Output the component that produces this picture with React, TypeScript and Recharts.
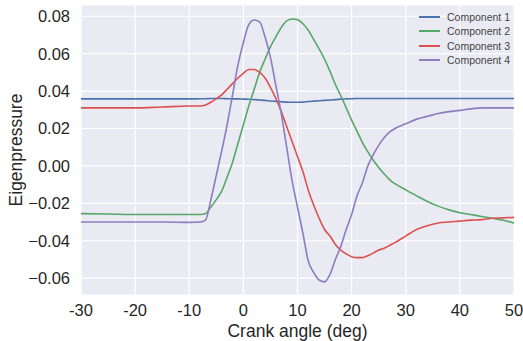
import { LineChart, Line, XAxis, YAxis, CartesianGrid, Legend } from "recharts";

const angles = [
  -30, -25, -20, -15, -10, -8, -7, -6, -5, -4, -3, -2, -1, 0, 1, 2, 3, 4, 5, 6, 7, 8, 9, 10,
  11, 12, 13, 14, 15, 16, 17, 18, 19, 20, 21, 22, 23, 24, 25, 26, 27, 28, 30, 32, 34, 36, 38,
  40, 42, 44, 46, 48, 50,
];

const comp1 = [
  0.0358, 0.0358, 0.0358, 0.0358, 0.0358, 0.0359, 0.0359, 0.036, 0.036, 0.036, 0.0359, 0.0358,
  0.0358, 0.0357, 0.0356, 0.0354, 0.0352, 0.035, 0.0347, 0.0345, 0.0343, 0.0341, 0.034, 0.034,
  0.0341, 0.0344, 0.0346, 0.0348, 0.035, 0.0352, 0.0354, 0.0357, 0.0358, 0.0359, 0.036, 0.036,
  0.036, 0.036, 0.036, 0.036, 0.036, 0.036, 0.036, 0.036, 0.036, 0.036, 0.036, 0.036, 0.036,
  0.036, 0.036, 0.036, 0.036,
];

const comp2 = [
  -0.0255, -0.0257, -0.026, -0.026, -0.026, -0.026, -0.0255, -0.022, -0.018, -0.0135, -0.006,
  0.002, 0.012, 0.022, 0.032, 0.041, 0.05, 0.057, 0.0636, 0.069, 0.074, 0.0775, 0.0785, 0.0782,
  0.076, 0.0725, 0.0675, 0.0625, 0.057, 0.0505, 0.0435, 0.0375, 0.031, 0.0245, 0.0185, 0.0125,
  0.0075, 0.003, -0.0008, -0.0042, -0.0073, -0.0095, -0.0128, -0.016, -0.019, -0.0215, -0.0235,
  -0.025, -0.026, -0.027, -0.028, -0.029, -0.0305,
];

const comp3 = [
  0.031, 0.031, 0.031, 0.0315, 0.032, 0.032, 0.0325, 0.034, 0.036, 0.038, 0.041, 0.044, 0.047,
  0.0495, 0.0515, 0.0515, 0.05, 0.047, 0.042, 0.036, 0.029, 0.021, 0.013, 0.005, -0.003,
  -0.013, -0.021, -0.028, -0.034, -0.0375, -0.042, -0.045, -0.047, -0.0485, -0.049, -0.049,
  -0.048, -0.0466, -0.045, -0.044, -0.0425, -0.041, -0.0375, -0.034, -0.032, -0.0305, -0.03,
  -0.0295, -0.029, -0.0287, -0.028, -0.0278, -0.0275,
];

const comp4 = [
  -0.03, -0.03, -0.03, -0.03, -0.0302, -0.03, -0.029, -0.018, -0.005, 0.008, 0.022, 0.038,
  0.054, 0.066, 0.0755, 0.078, 0.077, 0.069, 0.058, 0.043, 0.028, 0.01, -0.008, -0.022, -0.036,
  -0.051, -0.057, -0.061, -0.062, -0.058, -0.05, -0.043, -0.034, -0.026, -0.016, -0.009, 0.0,
  0.006, 0.011, 0.015, 0.018, 0.02, 0.0225, 0.025, 0.0265, 0.028, 0.029, 0.0297, 0.0305, 0.031,
  0.031, 0.031, 0.031,
];

const xTicks = [-30, -20, -10, 0, 10, 20, 30, 40, 50];
const yTicks = [-0.06, -0.04, -0.02, 0, 0.02, 0.04, 0.06, 0.08];

const series = [
  { key: "c1", name: "Component 1", color: "#4C72B0" },
  { key: "c2", name: "Component 2", color: "#55A868" },
  { key: "c3", name: "Component 3", color: "#DC5050" },
  { key: "c4", name: "Component 4", color: "#8C7CC0" },
];

const data = angles.map((a, i) => ({
  angle: a,
  c1: comp1[i],
  c2: comp2[i],
  c3: comp3[i],
  c4: comp4[i],
}));

const font = "'Liberation Sans', Arial, sans-serif";

const fmtY = (v: number) => {
  const s = Math.abs(v).toFixed(2);
  return v < -1e-9 ? "\u2212" + s : s;
};

function LegendBox() {
  return (
    <div style={{ fontFamily: font, fontSize: 10.5, color: "#444" }}>
      {series.map((s) => (
        <div key={s.key} style={{ display: "flex", alignItems: "center", height: 14.3 }}>
          <div style={{ width: 21, height: 2, background: s.color, marginRight: 7 }} />
          <span>{s.name}</span>
        </div>
      ))}
    </div>
  );
}

export default function App() {
  return (
    <div style={{ position: "absolute", left: 0, top: 0, background: "#fff" }}>
      <LineChart
        width={523}
        height={341}
        data={data}
        margin={{ top: 5, right: 9, left: 0, bottom: 0 }}
      >
        <CartesianGrid stroke="#ffffff" strokeWidth={1.2} fill="#EAEAF2" />
        <XAxis
          dataKey="angle"
          type="number"
          domain={[-30, 50]}
          ticks={xTicks}
          tickLine={false}
          axisLine={false}
          height={46}
          tick={{ fontSize: 16.5, fill: "#262626", fontFamily: font }}
          tickMargin={3}
          label={{
            value: "Crank angle (deg)",
            position: "insideBottom",
            offset: 4,
            style: { fontSize: 17.5, fill: "#262626", fontFamily: font },
          }}
        />
        <YAxis
          type="number"
          domain={[-0.069, 0.086]}
          ticks={yTicks}
          tickFormatter={fmtY}
          tickLine={false}
          axisLine={false}
          width={81}
          tick={{ fontSize: 16.5, fill: "#262626", fontFamily: font }}
          tickMargin={5}
          label={{
            value: "Eigenpressure",
            angle: -90,
            position: "insideLeft",
            offset: 16,
            style: { fontSize: 17.5, fill: "#262626", fontFamily: font, textAnchor: "middle" },
          }}
        />
        <Legend
          layout="vertical"
          align="center"
          verticalAlign="middle"
          content={<LegendBox />}
          wrapperStyle={{ position: "absolute", top: 10, left: 419, width: 100 }}
        />
        {series.map((s) => (
          <Line
            key={s.key}
            type="monotone"
            dataKey={s.key}
            name={s.name}
            stroke={s.color}
            strokeWidth={1.6}
            dot={false}
            isAnimationActive={false}
          />
        ))}
      </LineChart>
    </div>
  );
}
